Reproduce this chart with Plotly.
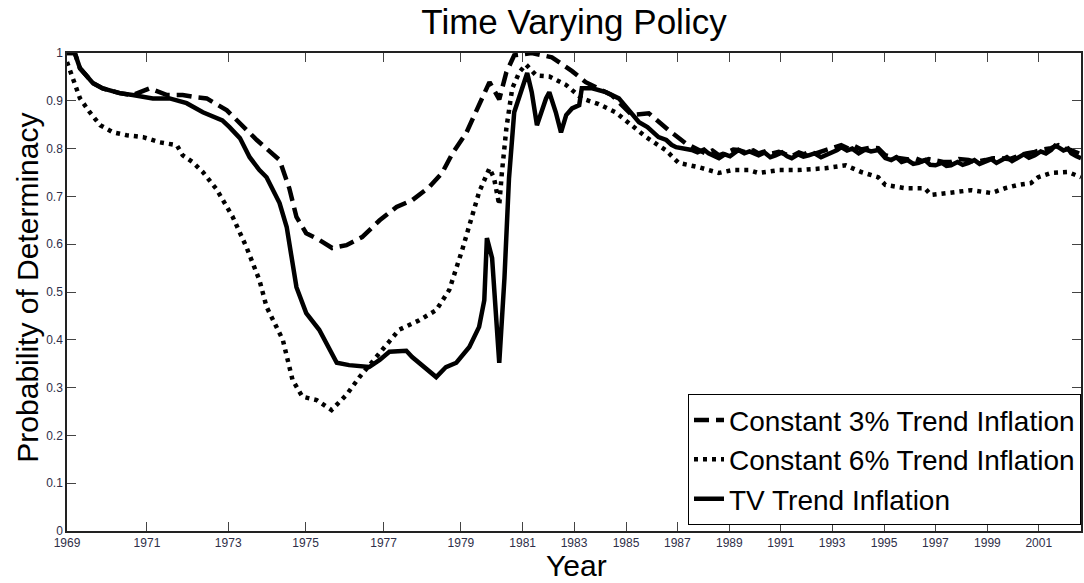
import plotly.graph_objects as go

# x axis is an observation index; year labels sit at uneven positions
TICK_POS = [0, 12.3, 24.8, 36.7, 48.7, 60.6, 70.1, 78.0, 86.0, 93.9,
            101.9, 109.8, 117.7, 125.7, 133.6, 141.6, 149.5]
TICK_YEARS = ["1969", "1971", "1973", "1975", "1977", "1979", "1981", "1983",
              "1985", "1987", "1989", "1991", "1993", "1995", "1997", "1999", "2001"]
Y_TICKS = [0, 0.1, 0.2, 0.3, 0.4, 0.5, 0.6, 0.7, 0.8, 0.9, 1.0]
Y_LABELS = ["0", "0.1", "0.2", "0.3", "0.4", "0.5", "0.6", "0.7", "0.8", "0.9", "1"]

# Constant 3% trend inflation (dashed)
c3_x = [0, 1.2, 2.0, 4.0, 5.5, 8.1, 10.1, 12.7, 15.4, 17.8, 20.0, 21.5, 24.6, 27.6,
        29.2, 32.7, 34.2, 35.3, 36.8, 38.8, 40.8, 43.0, 45.4, 48.1, 50.7, 53.1, 55.7,
        57.7, 59.3, 61.4, 63.4, 65.0, 66.5, 67.6, 68.8, 71.5, 74.6, 77.7, 79.8, 83.8,
        86.9, 89.5, 92.6, 95.2, 97.2, 98.2, 99.3, 100.3, 101.5, 102.5, 103.3, 104.5,
        105.6, 106.4, 107.6, 108.5, 109.5, 110.5, 111.5, 112.6, 113.4, 114.1, 115.2,
        116.7, 117.6, 118.5, 119.1, 120.2, 121.2, 122.2, 123.5, 124.8, 125.5, 125.9,
        127.0, 128.4, 129.5, 130.5, 131.6, 132.6, 133.6, 134.8, 136.0, 137.2, 138.7,
        139.8, 141.3, 142.5, 143.7, 145.0, 146.3, 147.6, 148.9, 150.0, 151.4, 152.5,
        153.4, 154.5, 155.3, 156.0]
c3_y = [1.000, 1.000, 0.968, 0.937, 0.926, 0.916, 0.912, 0.926, 0.912, 0.912, 0.907,
        0.905, 0.880, 0.838, 0.818, 0.776, 0.717, 0.657, 0.623, 0.609, 0.592, 0.598,
        0.615, 0.650, 0.678, 0.692, 0.719, 0.749, 0.790, 0.832, 0.891, 0.939, 0.903,
        0.960, 0.995, 1.000, 0.991, 0.962, 0.939, 0.912, 0.870, 0.874, 0.838, 0.811,
        0.797, 0.790, 0.796, 0.786, 0.792, 0.798, 0.797, 0.792, 0.796, 0.790, 0.795,
        0.790, 0.793, 0.788, 0.784, 0.792, 0.788, 0.793, 0.790, 0.797, 0.800, 0.804,
        0.807, 0.800, 0.805, 0.798, 0.802, 0.801, 0.792, 0.786, 0.782, 0.780, 0.777,
        0.780, 0.774, 0.778, 0.776, 0.772, 0.772, 0.778, 0.776, 0.772, 0.776, 0.780,
        0.780, 0.778, 0.784, 0.790, 0.793, 0.798, 0.801, 0.807, 0.800, 0.797, 0.792,
        0.788]

# Constant 6% trend inflation (dotted)
c6_x = [0, 1.2, 2.0, 3.5, 5.1, 7.1, 9.2, 11.7, 14.3, 16.9, 17.8, 19.3, 20.9, 23.0,
        25.5, 27.6, 29.6, 30.7, 33.2, 34.7, 36.2, 38.4, 40.7, 43.0, 45.0, 48.5, 51.1,
        54.2, 56.8, 58.8, 60.8, 63.4, 65.0, 65.7, 66.5, 66.9, 67.6, 68.5, 69.6, 70.6,
        72.2, 74.2, 76.8, 79.2, 81.8, 84.4, 86.9, 89.1, 92.1, 94.1, 97.2, 100.3, 102.3,
        104.9, 106.4, 109.5, 112.5, 116.7, 119.8, 122.2, 124.8, 125.9, 129.0, 132.0,
        132.9, 136.0, 139.1, 142.2, 144.3, 146.3, 148.3, 149.4, 151.4, 154.0, 156.0]
c6_y = [0.981, 0.933, 0.905, 0.876, 0.849, 0.834, 0.828, 0.824, 0.813, 0.807, 0.786,
        0.772, 0.751, 0.715, 0.657, 0.594, 0.525, 0.469, 0.400, 0.316, 0.281, 0.274,
        0.253, 0.285, 0.322, 0.379, 0.421, 0.441, 0.462, 0.504, 0.588, 0.709, 0.759,
        0.738, 0.682, 0.749, 0.843, 0.926, 0.960, 0.976, 0.953, 0.951, 0.933, 0.905,
        0.893, 0.876, 0.849, 0.824, 0.797, 0.770, 0.761, 0.749, 0.755, 0.755, 0.749,
        0.755, 0.755, 0.759, 0.765, 0.751, 0.740, 0.724, 0.717, 0.717, 0.703, 0.707,
        0.713, 0.707, 0.717, 0.724, 0.728, 0.740, 0.749, 0.751, 0.740]

# TV trend inflation (solid)
tv_x = [0, 1.2, 2.0, 4.0, 5.5, 8.1, 10.1, 13.2, 15.8, 18.4, 20.9, 23.9, 25.0, 26.6,
        28.1, 29.6, 30.7, 32.7, 33.8, 35.3, 36.8, 38.8, 41.5, 43.4, 46.5, 48.1, 49.6,
        52.2, 53.1, 56.8, 58.3, 59.9, 61.9, 63.4, 64.2, 64.6, 65.4, 66.2, 66.5, 67.3,
        68.0, 68.8, 69.6, 70.8, 71.5, 72.3, 73.7, 74.2, 75.2, 76.0, 76.8, 77.7, 78.8,
        79.2, 80.8, 82.9, 84.9, 88.0, 89.3, 90.5, 91.0, 92.2, 93.0, 93.7, 94.8, 96.1,
        97.0, 98.0, 98.7, 99.5, 100.3, 101.2, 102.0, 103.3, 104.2, 105.0, 106.4, 107.3,
        108.2, 109.0, 110.0, 110.8, 111.5, 112.5, 113.3, 114.1, 115.0, 116.0, 116.7,
        117.8, 118.5, 119.1, 120.0, 120.8, 121.8, 122.8, 123.7, 124.8, 125.4, 125.9,
        126.8, 127.6, 128.4, 129.3, 130.2, 131.0, 132.0, 132.8, 133.6, 134.6, 135.3,
        136.0, 137.0, 137.8, 138.7, 139.6, 140.4, 141.3, 142.2, 143.0, 143.7, 144.6,
        145.4, 146.3, 147.2, 148.0, 148.9, 149.8, 150.6, 151.4, 152.0, 152.5, 153.3,
        154.0, 154.5, 155.3, 156.0]
tv_y = [1.000, 1.000, 0.968, 0.937, 0.926, 0.916, 0.912, 0.905, 0.905, 0.895, 0.876,
        0.859, 0.845, 0.822, 0.782, 0.755, 0.740, 0.686, 0.636, 0.510, 0.456, 0.421,
        0.352, 0.347, 0.343, 0.358, 0.375, 0.377, 0.364, 0.322, 0.343, 0.352, 0.385,
        0.427, 0.483, 0.613, 0.571, 0.389, 0.352, 0.529, 0.738, 0.876, 0.912, 0.958,
        0.918, 0.849, 0.905, 0.918, 0.876, 0.834, 0.870, 0.884, 0.891, 0.926, 0.926,
        0.918, 0.905, 0.855, 0.845, 0.832, 0.824, 0.818, 0.808, 0.803, 0.800, 0.797,
        0.792, 0.798, 0.790, 0.784, 0.780, 0.788, 0.784, 0.797, 0.790, 0.794, 0.786,
        0.792, 0.782, 0.786, 0.792, 0.784, 0.780, 0.788, 0.783, 0.786, 0.790, 0.782,
        0.786, 0.792, 0.797, 0.803, 0.796, 0.800, 0.790, 0.798, 0.794, 0.797, 0.788,
        0.780, 0.776, 0.782, 0.772, 0.776, 0.768, 0.770, 0.776, 0.766, 0.765, 0.770,
        0.764, 0.765, 0.772, 0.766, 0.770, 0.776, 0.768, 0.772, 0.778, 0.770, 0.776,
        0.782, 0.774, 0.780, 0.788, 0.781, 0.786, 0.794, 0.790, 0.797, 0.806, 0.803,
        0.796, 0.800, 0.790, 0.784, 0.780]

FONT = "Arial"
TICK_FONT = dict(family=FONT, size=12, color="#2e2e48")

fig = go.Figure()
fig.add_trace(go.Scatter(x=c3_x, y=c3_y, mode="lines", name="Constant 3% Trend Inflation",
                         line=dict(color="black", width=4.5, dash="15px,7px")))
fig.add_trace(go.Scatter(x=c6_x, y=c6_y, mode="lines", name="Constant 6% Trend Inflation",
                         line=dict(color="black", width=4.5, dash="4px,5px")))
fig.add_trace(go.Scatter(x=tv_x, y=tv_y, mode="lines", name="TV Trend Inflation",
                         line=dict(color="black", width=4.5)))

axis_common = dict(
    showgrid=False, zeroline=False, showline=True, linecolor="#222", linewidth=1.5,
    mirror="ticks", ticks="inside", ticklen=9, tickwidth=1, tickcolor="#444",
    tickfont=TICK_FONT,
)

fig.update_layout(
    width=1084, height=583,
    paper_bgcolor="white", plot_bgcolor="white",
    font=dict(family=FONT, color="black"),
    margin=dict(l=67, r=1, t=53, b=52),
    title=dict(text="Time Varying Policy", x=0.5, xref="paper", y=0.962,
               yref="container", yanchor="middle", xanchor="center",
               font=dict(size=35, family=FONT, color="black")),
    xaxis=dict(range=[0, 156], tickvals=TICK_POS, ticktext=TICK_YEARS, **axis_common),
    yaxis=dict(range=[0, 1], tickvals=Y_TICKS, ticktext=Y_LABELS, **axis_common),
    legend=dict(x=1, xanchor="right", y=0.012, yanchor="bottom",
                bgcolor="white", bordercolor="black", borderwidth=1,
                font=dict(size=28, family=FONT, color="black"),
                tracegroupgap=0, itemwidth=30),
    showlegend=True,
    annotations=[
        dict(text="Probability of Determinacy", textangle=-90, xref="paper", yref="paper",
             x=-0.039, y=0.51, showarrow=False, xanchor="center", yanchor="middle",
             font=dict(size=30, family=FONT, color="black")),
        dict(text="Year", xref="paper", yref="paper", x=0.502, y=-0.0725,
             showarrow=False, xanchor="center", yanchor="middle",
             font=dict(size=30, family=FONT, color="black")),
    ],
)

# drop the browser's default body margin so the figure sits at the page corner
fig.write_html("out.html", config={"displayModeBar": False},
               post_script="document.body.style.margin='0px';")
